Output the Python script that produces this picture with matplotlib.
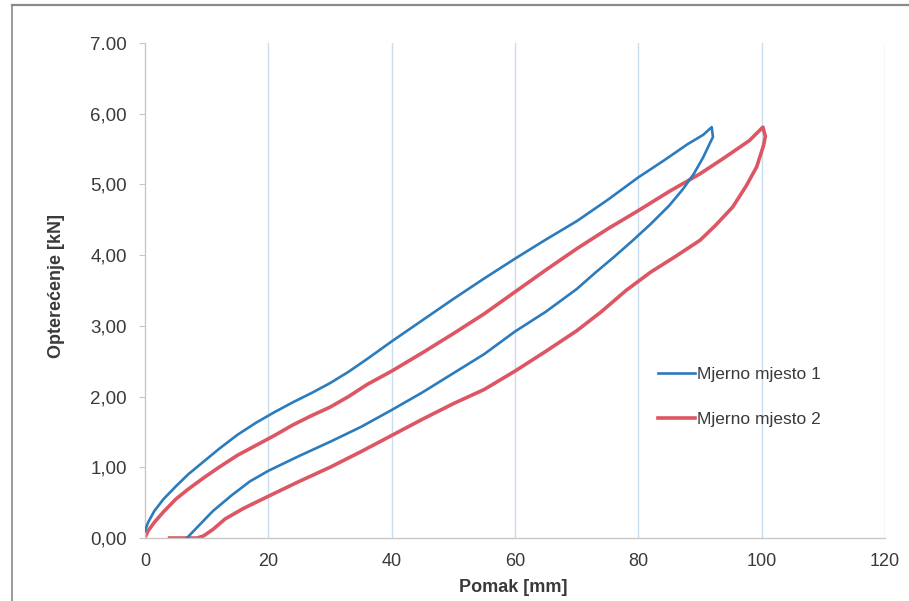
import matplotlib
matplotlib.use("Agg")
import matplotlib.pyplot as plt
from matplotlib.lines import Line2D

plt.rcParams["font.family"] = ["Liberation Sans", "DejaVu Sans"]

# Mjerno mjesto 1: loading branch up to the peak, then unloading back down
pomak_1 = [0, 0.5, 1.5, 3, 5, 7, 9.5, 12, 15, 18, 21, 24, 27, 30, 33, 36, 40,
           45, 50, 55, 60, 65, 70, 75, 80, 84, 88, 90.5, 91.9, 92.1,
           91.7, 90.5, 89, 87.2, 85, 82, 79, 76, 73, 70, 65, 60, 55, 50, 45,
           40, 35, 30, 25, 20, 17, 14, 11, 9, 6.8]
sila_1 = [0.1, 0.22, 0.38, 0.55, 0.73, 0.9, 1.08, 1.26, 1.46, 1.63, 1.78,
          1.92, 2.05, 2.19, 2.35, 2.53, 2.78, 3.08, 3.38, 3.67, 3.95, 4.22,
          4.48, 4.78, 5.1, 5.33, 5.57, 5.7, 5.81, 5.67,
          5.6, 5.38, 5.15, 4.93, 4.7, 4.44, 4.2, 3.97, 3.75, 3.52, 3.2, 2.92,
          2.6, 2.33, 2.06, 1.81, 1.57, 1.36, 1.16, 0.95, 0.8, 0.6, 0.38, 0.2,
          0.0]

# Mjerno mjesto 2
pomak_2 = [0, 0.5, 1.5, 3, 5, 7, 9.5, 12, 15, 18, 21, 24, 27, 30, 33, 36, 40,
           45, 50, 55, 60, 65, 70, 75, 80, 85, 90, 94, 98, 100.2, 100.6,
           100.3, 99.2, 97.5, 95.3, 92.5, 90, 86, 82, 78, 74, 70, 65, 60, 55,
           50, 45, 40, 35, 30, 25, 20, 16, 13, 11, 9.5, 8.5, 4]
sila_2 = [0.01, 0.1, 0.22, 0.37, 0.55, 0.69, 0.85, 1.0, 1.17, 1.31, 1.45,
          1.6, 1.73, 1.85, 2.0, 2.17, 2.36, 2.62, 2.89, 3.17, 3.48, 3.79, 4.09,
          4.37, 4.63, 4.9, 5.15, 5.38, 5.62, 5.81, 5.68,
          5.55, 5.25, 4.98, 4.68, 4.42, 4.21, 3.98, 3.76, 3.5, 3.2, 2.93,
          2.64, 2.36, 2.1, 1.9, 1.68, 1.45, 1.22, 1.0, 0.8, 0.59, 0.42, 0.27,
          0.12, 0.03, 0.0, 0.0]

x_ticks = [0, 20, 40, 60, 80, 100, 120]
y_ticks = [0, 1, 2, 3, 4, 5, 6, 7]
y_tick_labels = ["0,00", "1,00", "2,00", "3,00", "4,00", "5,00", "6,00", "7.00"]

BLUE = "#2b7bbd"
RED = "#dc5663"
TEXT = "#3a3a3a"
AXIS = "#c8c8c8"

fig = plt.figure(figsize=(9.09, 6.01), dpi=100)
ax = fig.add_axes([145 / 909, 1 - 538 / 601, 740 / 909, 495 / 601])

ax.plot(pomak_1, sila_1, color=BLUE, lw=1.9, label="Mjerno mjesto 1",
        solid_joinstyle="round", zorder=3)
ax.plot(pomak_2, sila_2, color=RED, lw=2.6, label="Mjerno mjesto 2",
        solid_joinstyle="round", zorder=2)

ax.set_xlim(0, 120)
ax.set_ylim(0, 7)
ax.set_xticks(x_ticks)
ax.set_yticks(y_ticks)
ax.set_yticklabels(y_tick_labels)

# vertical grid only, light blue
for xv in x_ticks[1:]:
    ax.axvline(xv, color="#c9def0", lw=1.0, zorder=0)

for side in ["top", "right"]:
    ax.spines[side].set_visible(False)
for side in ["left", "bottom"]:
    ax.spines[side].set_color(AXIS)
    ax.spines[side].set_linewidth(1.0)

ax.tick_params(axis="y", length=4, color=AXIS, pad=9, labelsize=13.5, labelcolor=TEXT)
ax.tick_params(axis="x", length=0, pad=11, labelsize=13, labelcolor=TEXT)

ax.set_xlabel("Pomak [mm]", fontsize=13, fontweight="bold", color=TEXT)
ax.xaxis.set_label_coords(0.497, -0.082)
ax.set_ylabel("Opterećenje [kN]", fontsize=13, fontweight="bold", color=TEXT)
ax.yaxis.set_label_coords(-0.108, 0.51)

ax.legend(loc="center left", bbox_to_anchor=(0.682, 0.285), frameon=False,
          fontsize=12.5, handlelength=2.1, handletextpad=0.15,
          labelspacing=1.75, borderpad=0, labelcolor=TEXT)

# scanned page border
fig.add_artist(Line2D([12 / 909, 12 / 909], [0, 1 - 5 / 601], color="#8a8a8a", lw=1.2))
fig.add_artist(Line2D([12 / 909, 1], [1 - 5 / 601, 1 - 5 / 601], color="#8a8a8a", lw=1.6))

fig.savefig("out.png", dpi=100)
